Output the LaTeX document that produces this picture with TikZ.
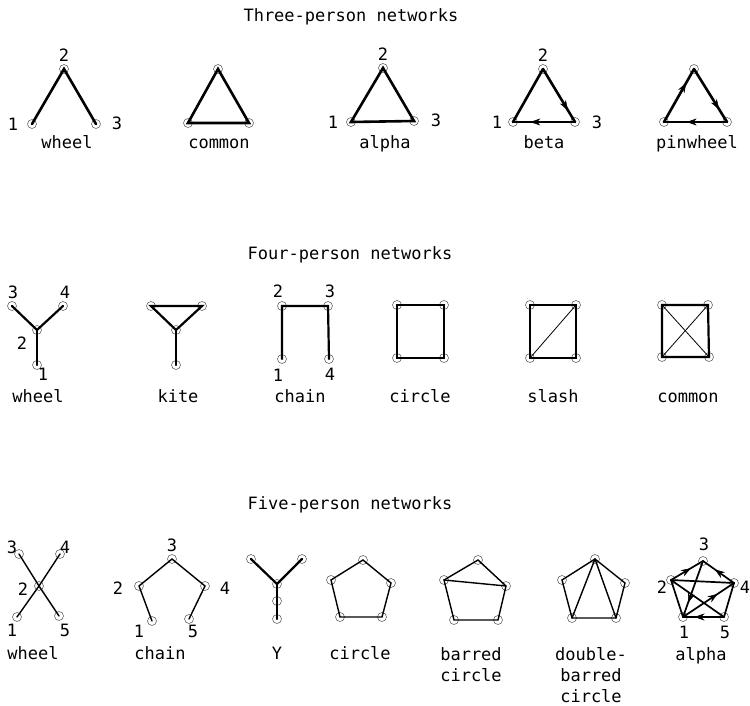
\documentclass[tikz,border=0pt]{standalone}
\usepackage{fontspec}
\setmonofont{DejaVu Sans Mono}
\usetikzlibrary{arrows.meta,decorations.markings}
\tikzset{
  pt/.style={circle,draw=black!60,line width=0.6pt,minimum size=9pt,inner sep=0pt},
  txt/.style={font=\ttfamily\fontsize{17}{20}\selectfont,inner sep=0pt,text height=13pt,text depth=0pt},
  thick3/.style={line width=2.6pt,line cap=round},
  thick4/.style={line width=2.2pt,line cap=round},
  med/.style={line width=1.4pt,line cap=round},
  thin/.style={line width=0.8pt},
  arrowat/.style={postaction={decorate,decoration={markings,mark=at position #1 with {\arrow[line width=0.5pt]{Stealth[length=10pt,width=7pt]}}}}},
}
\begin{document}
\begin{tikzpicture}[x=1pt,y=-1pt]
\useasboundingbox (0,0) rectangle (750,706);
% ---------- titles ----------
\node[txt] (t3) at (351,15) {Three-person networks};
\node[txt] (t4) at (350,253) {Four-person networks};
\node[txt] (t5) at (350,503) {Five-person networks};

% ---------- Three-person ----------
% wheel
\node[pt] (w1) at (32,124) {}; \node[pt] (w2) at (64,69) {}; \node[pt] (w3) at (96,124) {};
\draw[thick3] (w1.center) -- (w2.center) -- (w3.center);
\node[txt] (w1l) at (13,124) {1}; \node[txt] (w2l) at (64,55) {2}; \node[txt] (w3l) at (117,123) {3};
\node[txt] (wl) at (67,142) {wheel};
% common
\node[pt] (c1) at (188,123) {}; \node[pt] (c2) at (218,69) {}; \node[pt] (c3) at (249,123) {};
\draw[thick3] (c1.center) -- (c2.center) -- (c3.center) -- cycle;
\node[txt] (cl) at (219,142) {common};
% alpha
\node[pt] (a1) at (351,122) {}; \node[pt] (a2) at (383,68) {}; \node[pt] (a3) at (414,121) {};
\draw[thick3] (a1.center) -- (a2.center) -- (a3.center) -- cycle;
\node[txt] (a1l) at (333,122) {1}; \node[txt] (a2l) at (383,54) {2}; \node[txt] (a3l) at (436,120) {3};
\node[txt] (al) at (385,142) {alpha};
% beta
\node[pt] (b1) at (513,122) {}; \node[pt] (b2) at (543,69) {}; \node[pt] (b3) at (575,122) {};
\draw[thick3] (b1.center) -- (b2.center);
\draw[thick3,arrowat=0.78] (b2.center) -- (b3.center);
\draw[thick3,arrowat=0.72] (b3.center) -- (b1.center);
\node[txt] (b1l) at (497,122) {1}; \node[txt] (b2l) at (543,55) {2}; \node[txt] (b3l) at (597,122) {3};
\node[txt] (bl) at (544,142) {beta};
% pinwheel
\node[pt] (p1) at (664,122) {}; \node[pt] (p2) at (694,69) {}; \node[pt] (p3) at (727,122) {};
\draw[thick3,arrowat=0.74] (p1.center) -- (p2.center);
\draw[thick3,arrowat=0.76] (p2.center) -- (p3.center);
\draw[thick3,arrowat=0.64] (p3.center) -- (p1.center);
\node[txt] (pl) at (697,142) {pinwheel};

% ---------- Four-person ----------
% wheel
\node[pt] (fw3) at (12,306) {}; \node[pt] (fw4) at (63,306) {};
\node[pt] (fw2) at (37,330) {}; \node[pt] (fw1) at (37,365) {};
\draw[thick4] (fw3.center) -- (fw2.center) -- (fw4.center);
\draw[thick4] (fw2.center) -- (fw1.center);
\node[txt] (fw3l) at (13,292) {3}; \node[txt] (fw4l) at (65,292) {4};
\node[txt] (fw2l) at (22,343) {2}; \node[txt] (fw1l) at (43,374) {1};
\node[txt] (fwl) at (38,396) {wheel};
% kite
\node[pt] (k1) at (151,306) {}; \node[pt] (k2) at (202,306) {};
\node[pt] (k3) at (176,330) {}; \node[pt] (k4) at (176,365) {};
\draw[thick4] (k1.center) -- (k2.center) -- (k3.center) -- cycle;
\draw[thick4] (k3.center) -- (k4.center);
\node[txt] (kl) at (178,396) {kite};
% chain
\node[pt] (ch2) at (282,306) {}; \node[pt] (ch3) at (328,306) {};
\node[pt] (ch1) at (282,359) {}; \node[pt] (ch4) at (329,359) {};
\draw[thick4] (ch1.center) -- (ch2.center) -- (ch3.center) -- (ch4.center);
\node[txt] (ch2l) at (278,291) {2}; \node[txt] (ch3l) at (330,291) {3};
\node[txt] (ch1l) at (278,375) {1}; \node[txt] (ch4l) at (330,374) {4};
\node[txt] (chl) at (300,396) {chain};
% circle
\node[pt] (q1) at (397,305) {}; \node[pt] (q2) at (444,305) {};
\node[pt] (q3) at (444,358) {}; \node[pt] (q4) at (397,358) {};
\draw[thick4] (q1.center) -- (q2.center) -- (q3.center) -- (q4.center) -- cycle;
\node[txt] (ql) at (420,396) {circle};
% slash
\node[pt] (s1) at (530,305) {}; \node[pt] (s2) at (576,305) {};
\node[pt] (s3) at (576,358) {}; \node[pt] (s4) at (530,358) {};
\draw[thick4] (s1.center) -- (s2.center) -- (s3.center) -- (s4.center) -- cycle;
\draw[thin] (s4.center) -- (s2.center);
\node[txt] (sl) at (553,396) {slash};
% common
\node[pt] (m1) at (662,305) {}; \node[pt] (m2) at (708,305) {};
\node[pt] (m3) at (709,357) {}; \node[pt] (m4) at (662,357) {};
\draw[thick4] (m1.center) -- (m2.center) -- (m3.center) -- (m4.center) -- cycle;
\draw[thin] (m1.center) -- (m3.center);
\draw[thin] (m2.center) -- (m4.center);
\node[txt] (ml) at (688,396) {common};

% ---------- Five-person ----------
% wheel
\node[pt] (v3) at (19,554) {}; \node[pt] (v4) at (60,554) {};
\node[pt] (v2) at (39,586) {};
\node[pt] (v1) at (17,617) {}; \node[pt] (v5) at (59,616) {};
\draw[med] (v3.center) -- (v2.center) -- (v5.center);
\draw[med] (v4.center) -- (v2.center) -- (v1.center);
\node[txt] (v3l) at (12,547) {3}; \node[txt] (v4l) at (65,547) {4};
\node[txt] (v2l) at (23,589) {2};
\node[txt] (v1l) at (12,630) {1}; \node[txt] (v5l) at (65,630) {5};
\node[txt] (vl) at (33,653) {wheel};
% chain
\node[pt] (n3) at (172,559) {}; \node[pt] (n2) at (139,586) {};
\node[pt] (n4) at (205,586) {}; \node[pt] (n1) at (152,621) {};
\node[pt] (n5) at (189,619) {};
\draw[med] (n1.center) -- (n2.center) -- (n3.center) -- (n4.center) -- (n5.center);
\node[txt] (n3l) at (172,545) {3}; \node[txt] (n2l) at (118,588) {2};
\node[txt] (n4l) at (225,588) {4}; \node[txt] (n1l) at (139,631) {1};
\node[txt] (n5l) at (193,631) {5};
\node[txt] (nl) at (160,653) {chain};
% Y
\node[pt] (y1) at (251,559) {}; \node[pt] (y2) at (302,559) {};
\node[pt] (y3) at (277,584) {}; \node[pt] (y4) at (277,601) {};
\node[pt] (y5) at (277,619) {};
\draw[thick4] (y1.center) -- (y3.center) -- (y2.center);
\draw[thick4] (y3.center) -- (y4.center) -- (y5.center);
\node[txt] (yl) at (277,653) {Y};
% circle
\node[pt] (o1) at (363,560) {}; \node[pt] (o2) at (391,583) {};
\node[pt] (o3) at (382,617) {}; \node[pt] (o4) at (340,617) {};
\node[pt] (o5) at (331,580) {};
\draw[med] (o1.center) -- (o2.center) -- (o3.center) -- (o4.center) -- (o5.center) -- cycle;
\node[txt] (ol) at (360,653) {circle};
% barred circle
\node[pt] (r1) at (478,560) {}; \node[pt] (r2) at (506,586) {};
\node[pt] (r3) at (498,620) {}; \node[pt] (r4) at (454,620) {};
\node[pt] (r5) at (444,580) {};
\draw[med] (r1.center) -- (r2.center) -- (r3.center) -- (r4.center) -- (r5.center) -- cycle;
\draw[med] (r5.center) -- (r2.center);
\node[txt] (rl1) at (471,654) {barred};
\node[txt] (rl2) at (471,675) {circle};
% double-barred circle
\node[pt] (d1) at (595,559) {}; \node[pt] (d2) at (625,583) {};
\node[pt] (d3) at (616,618) {}; \node[pt] (d4) at (572,618) {};
\node[pt] (d5) at (562,580) {};
\draw[med] (d1.center) -- (d2.center) -- (d3.center) -- (d4.center) -- (d5.center) -- cycle;
\draw[med] (d1.center) -- (d4.center);
\draw[med] (d1.center) -- (d3.center);
\node[txt] (dl1) at (591,654) {double-};
\node[txt] (dl2) at (591,675) {barred};
\node[txt] (dl3) at (591,696) {circle};
% alpha
\node[pt] (e3) at (703,561) {}; \node[pt] (e2) at (671,580) {};
\node[pt] (e4) at (734,583) {}; \node[pt] (e1) at (683,617) {};
\node[pt] (e5) at (724,617) {};
\draw[med,line width=1.7pt,arrowat=0.62] (e2.center) -- (e3.center);
\draw[med,line width=1.7pt,arrowat=0.62] (e4.center) -- (e3.center);
\draw[med,line width=1.7pt,arrowat=0.75] (e3.center) -- (e1.center);
\draw[med,line width=1.7pt,arrowat=0.68] (e1.center) -- (e4.center);
\draw[med,line width=1.7pt,arrowat=0.72] (e5.center) -- (e1.center);
\draw[med,line width=1.7pt] (e2.center) -- (e4.center);
\draw[med,line width=1.7pt] (e2.center) -- (e5.center);
\draw[med,line width=1.7pt] (e2.center) -- (e1.center);
\draw[med,line width=1.7pt] (e4.center) -- (e5.center);
\node[txt] (e3l) at (704,544) {3}; \node[txt] (e2l) at (662,587) {2};
\node[txt] (e4l) at (745,587) {4}; \node[txt] (e1l) at (684,632) {1};
\node[txt] (e5l) at (725,632) {5};
\node[txt] (el) at (701,654) {alpha};
\end{tikzpicture}
\end{document}
